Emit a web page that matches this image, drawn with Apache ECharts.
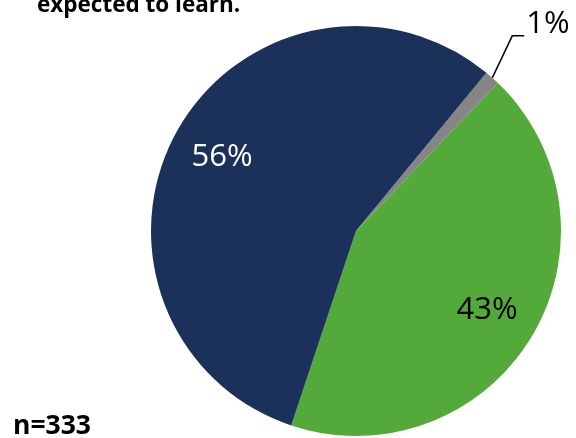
<!DOCTYPE html>
<html><head><meta charset="utf-8">
<script src="https://cdn.jsdelivr.net/npm/echarts@6/dist/echarts.min.js"></script>
<style>html,body{margin:0;padding:0;background:#fff}#c{width:576px;height:438px}</style>
</head><body><div id="c"></div>
<script>
const categories = ['Other', 'Group B', 'Group A'];
const values = [4, 143, 186];
const colors = ['#858585', '#53A93A', '#1B315A'];
const labelColors = ['#000000', '#000000', '#FFFFFF'];
const titleText = 'expected to learn.';
const noteText = 'n=333';

const FONT = '"Open Sans", sans-serif';
const total = values.reduce((a, b) => a + b, 0);
const pct = v => Math.round(v / total * 100) + '%';

const chart = echarts.init(document.getElementById('c'), null, {renderer: 'canvas'});
const baseData = values.map((v, i) => ({
  name: categories[i], value: v,
  itemStyle: {color: colors[i]},
  label: {show: i === 0},
  labelLine: {show: i === 0}
}));
const labelData = values.map((v, i) => ({
  name: categories[i], value: v,
  label: {show: i !== 0, color: labelColors[i]}
}));
chart.setOption({
  animation: false,
  backgroundColor: '#fff',
  graphic: [
    {type: 'text', left: 37, top: -6, style: {text: titleText, font: 'bold 22.5px ' + FONT, fill: '#000'}},
    {type: 'text', left: 13, top: 413, style: {text: noteText, font: 'bold 26.5px ' + FONT, fill: '#000'}}
  ],
  series: [
    {
      type: 'pie', center: [356, 231], radius: [0, 205], startAngle: 50.5, clockwise: true,
      silent: true,
      data: baseData,
      label: {position: 'outside', formatter: p => pct(p.value), fontFamily: FONT, fontSize: 31, color: '#000', overflow: 'none', edgeDistance: 0, bleedMargin: 0},
      labelLine: {length: 40, length2: 12, lineStyle: {color: '#000', width: 1.5}},
      labelLayout: function (params) {
        if (params.dataIndex !== 0 || !params.labelLinePoints) return {};
        const p0 = params.labelLinePoints[0];
        const p1 = [p0[0] + 20, p0[1] - 42];
        const p2 = [p1[0] + 12, p1[1]];
        return {x: p2[0] + 2, y: p2[1] - 12, align: 'left', verticalAlign: 'middle', hideOverlap: false, labelLinePoints: [p0, p1, p2]};
      }
    },
    {
      type: 'pie', center: [356, 231], radius: [95, 205], startAngle: 50.5, clockwise: true,
      silent: true,
      itemStyle: {color: 'rgba(0,0,0,0)'},
      data: labelData,
      label: {position: 'inside', formatter: p => pct(p.value), fontFamily: FONT, fontSize: 31},
      labelLine: {show: false}
    }
  ]
});
</script></body></html>
